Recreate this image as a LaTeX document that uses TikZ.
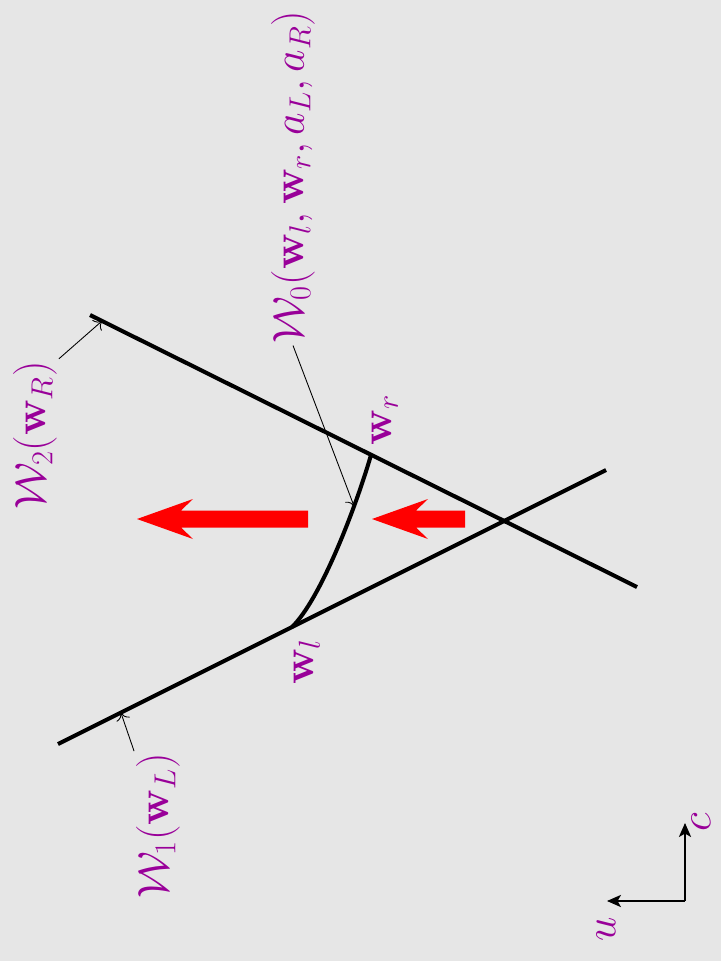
\documentclass[tikz,border=0pt]{standalone}
\usetikzlibrary{arrows.meta}
\definecolor{fondo}{RGB}{230,230,230}
\definecolor{morado}{RGB}{153,0,153}

\begin{document}
\begin{tikzpicture}[x=0.02cm,y=-0.02cm,
  every node/.style={text=morado,rotate=90,inner sep=1pt,font=\fontsize{27}{32}\selectfont},
  recta/.style={line width=2.3pt},
  puntero/.style={line width=0.5pt,-{To[length=4pt,width=8pt]}},
  eje/.style={line width=0.6pt,-{Stealth[length=8pt,width=7pt,inset=2pt]}}]
  % Fondo y marco de la figura
  \fill[fondo] (0,0) rectangle (721,961);
  \useasboundingbox (0,0) rectangle (721,961);

  % Extremos de las rectas W_1 y W_2
  \coordinate (a1) at (58,744);
  \coordinate (b1) at (606,470);
  \coordinate (a2) at (90,315);
  \coordinate (b2) at (637,587);

  % Puntos w_l y w_r
  \coordinate (wl) at (292,627);
  \coordinate (wr) at (371,455);

  % Rectas
  \foreach \from/\to in {a1/b1, a2/b2}
    \draw[recta] (\from) -- (\to);

  % Curva W_0 entre w_l y w_r
  \draw[recta] (wl) .. controls (320,600) and (355,510) .. (wr);

  % Flechas rojas
  \coordinate (f1) at (137,519);
  \coordinate (f2) at (372,519);
  \foreach \p/\l in {f1/127, f2/49}
    \fill[red] (\p) -- ++(56,-20) -- ++(-12,11.5) -- ++(\l,0) -- ++(0,17)
      -- ++(-\l,0) -- ++(12,11.5) -- cycle;

  % Etiquetas
  \node (wrlab) at (385,420) {$\mathbf{w}_r$};
  \node (wllab) at (307,662) {$\mathbf{w}_l$};
  \node (w2lab) at (35,435) {$\mathcal{W}_2(\mathbf{w}_R)$};
  \node (w1lab) at (158,826) {$\mathcal{W}_1(\mathbf{w}_L)$};
  \node (w0lab) at (293,177) {$\mathcal{W}_0(\mathbf{w}_l,\mathbf{w}_r,a_L,a_R)$};

  % Punteros de las etiquetas
  \coordinate (p2) at (102,321);
  \coordinate (p1) at (121,713);
  \coordinate (p0) at (354,506);
  \draw[puntero] (w2lab.south east) -- (p2);
  \draw[puntero] (w1lab.north east) -- (p1);
  \draw[puntero] (w0lab.west) -- (p0);

  % Ejes c y u
  \coordinate (o) at (685,901);
  \coordinate (ce) at (685,823);
  \coordinate (ue) at (607,901);
  \node (c) at (701,822) {$c$};
  \node (u) at (606,929) {$u$};
  \foreach \to in {ce, ue}
    \draw[eje] (o) -- (\to);
\end{tikzpicture}
\end{document}
